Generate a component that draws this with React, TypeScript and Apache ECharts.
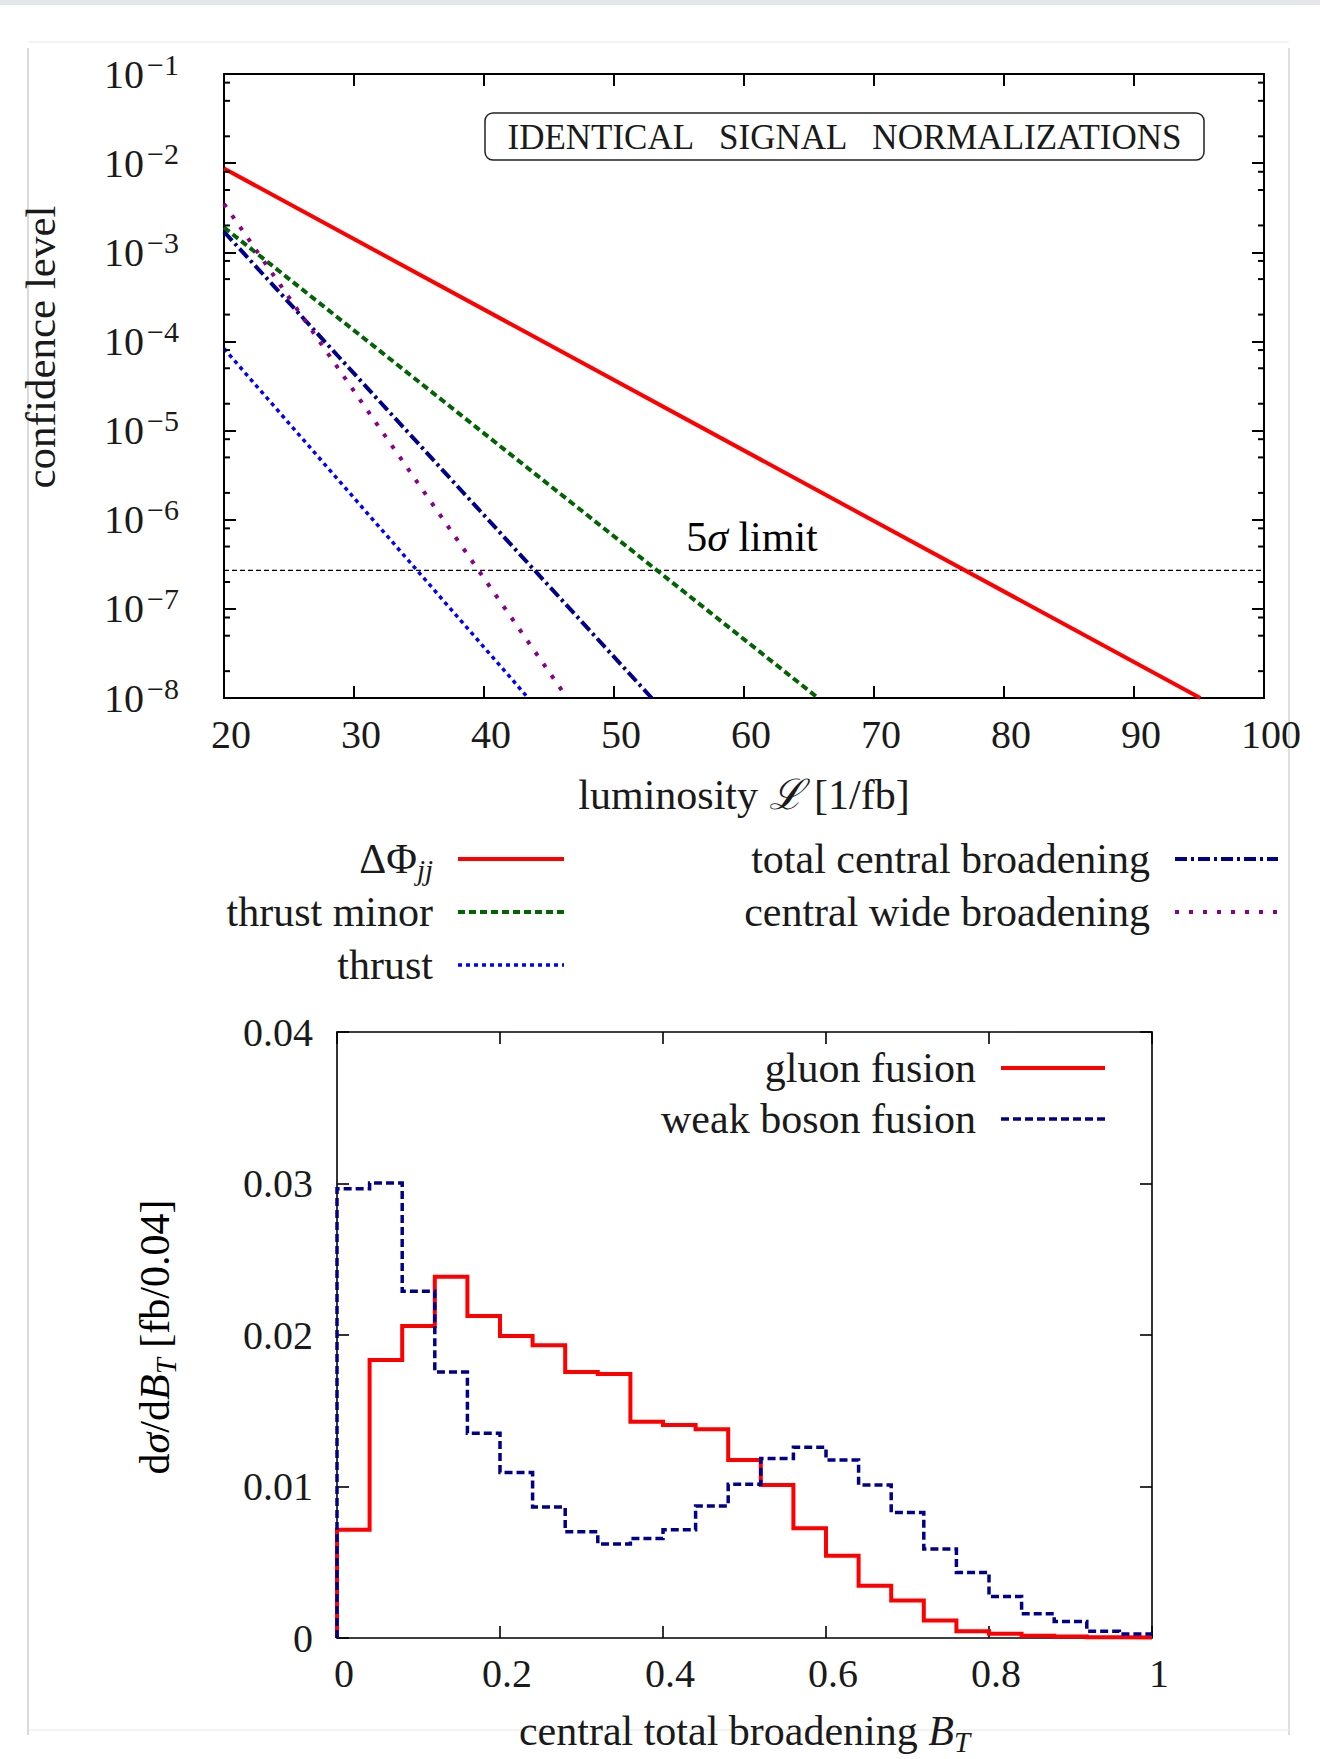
import React, { useEffect, useRef } from 'react';
import * as echarts from 'echarts';

const FONT = "'Liberation Serif', 'DejaVu Serif', serif";
const INK = '#1a1a1a';
const FS = 40; // digits
const FW = 42; // words

// ---------- Top panel: confidence level vs luminosity ----------
const lumiMin = 20;
const lumiMax = 100;
const clMin = 1e-8;
const clMax = 1e-1;
// straight lines on the log scale: [luminosity, confidence level]
const deltaPhiJJ = [[20, 8.7e-3], [95.1, 1e-8]];
const thrustMinor = [[20, 1.9e-3], [65.7, 1e-8]];
const totalCentralBroadening = [[20, 1.7e-3], [52.9, 1e-8]];
const centralWideBroadening = [[20, 3.5e-3], [46.4, 1e-8]];
const thrust = [[20, 8.3e-5], [43.4, 1e-8]];
const fiveSigmaLevel = 2.7e-7;
const minorMantissas = [2, 5, 8];
const minorDecades = [-8, -7, -6, -5, -4, -3, -2];

// ---------- Bottom panel: histogram of B_T ----------
const binWidth = 0.04;
const gluonFusion = [
  0.00714, 0.01835, 0.02059, 0.02384, 0.02125, 0.01993, 0.01933, 0.01755, 0.01742,
  0.01428, 0.01406, 0.01378, 0.01175, 0.0101, 0.00725, 0.00543, 0.00345, 0.00248,
  0.00116, 0.00044, 0.00028, 0.00015, 0.0001, 0.00005, 0.00003,
];
const weakBosonFusion = [
  0.02966, 0.03003, 0.02289, 0.01755, 0.01351, 0.01092, 0.00864, 0.00701, 0.0062,
  0.00657, 0.00714, 0.00872, 0.01015, 0.01184, 0.01259, 0.01175, 0.0101, 0.00828,
  0.00587, 0.00433, 0.00274, 0.0016, 0.00109, 0.00044, 0.00026,
];

const stepData = (vals: number[]) => {
  const pts: number[][] = [[0, 0]];
  vals.forEach((v, i) => pts.push([i * binWidth, v]));
  pts.push([vals.length * binWidth, vals[vals.length - 1]]);
  return pts;
};

const minorTickValues: number[][] = [];
minorDecades.forEach((e) => minorMantissas.forEach((m) => minorTickValues.push([lumiMin, m * Math.pow(10, e)])));

const COL = {
  red: '#ff0000',
  green: '#006400',
  navy: '#00008b',
  purple: '#8b008b',
  blue: '#0000ff',
};

const DASH = {
  green: [7, 4],
  navy: [12, 4, 3, 4],
  purple: [4, 10],
  blue: [4, 4],
  wbf: [8, 4],
};

const G1 = { left: 224, top: 74, width: 1040, height: 624 };
const G2 = { left: 337, top: 1032, width: 815, height: 606 };

const supRich = {
  b: { fontFamily: FONT, fontSize: FS, color: INK, lineHeight: 50, verticalAlign: 'middle' },
  sup: { fontFamily: FONT, fontSize: 30, color: INK, lineHeight: 30, verticalAlign: 'top', padding: [0, 0, 0, 3] },
};

const mathRich = {
  i: { fontFamily: FONT, fontSize: FW, fontStyle: 'italic', color: INK, lineHeight: 50, verticalAlign: 'middle' },
  r: { fontFamily: FONT, fontSize: FW, color: INK, lineHeight: 50, verticalAlign: 'middle' },
  sub: { fontFamily: FONT, fontSize: 29, fontStyle: 'italic', color: INK, lineHeight: 29, verticalAlign: 'bottom' },
};

const legendItem = (text: string, tx: number, y: number, x1: number, x2: number, color: string, width: number, dash: any) => [
  {
    type: 'text',
    x: tx,
    y,
    style: { text, rich: mathRich, fontFamily: FONT, fontSize: FW, fill: INK, align: 'right', verticalAlign: 'middle' },
  },
  {
    type: 'line',
    shape: { x1, y1: y, x2, y2: y },
    style: { stroke: color, lineWidth: width, lineDash: dash },
  },
];

const axisCommon = (extra: any) => ({
  splitLine: { show: false },
  ...extra,
  axisLine: { show: true, onZero: false, lineStyle: { color: '#000', width: extra.lw } },
  axisTick: { inside: true, length: 12, lineStyle: { color: '#000', width: extra.lw } },
});

export default function App() {
  const ref = useRef<HTMLDivElement>(null);

  useEffect(() => {
    if (!ref.current) return;
    const chart = echarts.init(ref.current, undefined, { renderer: 'svg' });

    const lineSeries = (name: string, data: number[][], color: string, width: number, type: any) => ({
      type: 'line',
      name,
      data,
      xAxisIndex: 0,
      yAxisIndex: 0,
      symbol: 'none',
      showSymbol: false,
      clip: true,
      z: 3,
      lineStyle: { color, width, type, cap: 'butt' },
    });

    const option: any = {
      animation: false,
      backgroundColor: '#ffffff',
      textStyle: { fontFamily: FONT, color: INK },
      grid: [
        { ...G1, containLabel: false, outerBoundsMode: 'none' },
        { ...G2, containLabel: false, outerBoundsMode: 'none' },
      ],
      xAxis: [
        axisCommon({
          lw: 2, type: 'value', gridIndex: 0, position: 'bottom', min: lumiMin, max: lumiMax, interval: 10,
          axisLabel: { fontFamily: FONT, fontSize: FS, color: INK, margin: 16, padding: [0, 0, 0, 14] },
          name: 'luminosity {i|ℒ} [1/fb]', nameLocation: 'middle', nameGap: 72,
          nameTextStyle: { fontFamily: FONT, fontSize: FW, color: INK, rich: mathRich },
        }),
        axisCommon({
          lw: 2, type: 'value', gridIndex: 0, position: 'top', min: lumiMin, max: lumiMax, interval: 10,
          axisLabel: { show: false },
        }),
        axisCommon({
          lw: 1.6, type: 'value', gridIndex: 1, position: 'bottom', min: 0, max: 1, interval: 0.2,
          axisLabel: {
            fontFamily: FONT, fontSize: FS, color: INK, margin: 15, padding: [0, 0, 0, 14],
            formatter: (v: number) => (v === 0 || v === 1 ? String(v) : v.toFixed(1)),
          },
          name: 'central total broadening {i|B}{sub|T}', nameLocation: 'middle', nameGap: 68,
          nameTextStyle: { fontFamily: FONT, fontSize: FW, color: INK, rich: mathRich },
        }),
        axisCommon({
          lw: 1.6, type: 'value', gridIndex: 1, position: 'top', min: 0, max: 1, interval: 0.2,
          axisLabel: { show: false },
        }),
      ],
      yAxis: [
        axisCommon({
          lw: 2, type: 'log', logBase: 10, gridIndex: 0, position: 'left', min: clMin, max: clMax, splitNumber: 7,
          axisLabel: {
            margin: 45, rich: supRich,
            formatter: (v: number) => `{b|10}{sup|−${-Math.round(Math.log10(v))}}`,
          },
        }),
        axisCommon({
          lw: 2, type: 'log', logBase: 10, gridIndex: 0, position: 'right', min: clMin, max: clMax, splitNumber: 7,
          axisLabel: { show: false },
        }),
        axisCommon({
          lw: 1.6, type: 'value', gridIndex: 1, position: 'left', min: 0, max: 0.04, interval: 0.01,
          axisLabel: {
            fontFamily: FONT, fontSize: FS, color: INK, margin: 24,
            formatter: (v: number) => (v === 0 ? '0' : v.toFixed(2)),
          },
        }),
        axisCommon({
          lw: 1.6, type: 'value', gridIndex: 1, position: 'right', min: 0, max: 0.04, interval: 0.01,
          axisLabel: { show: false },
        }),
      ],
      series: [
        {
          type: 'custom',
          name: 'minor ticks',
          xAxisIndex: 0,
          yAxisIndex: 0,
          silent: true,
          clip: false,
          z: 5,
          data: minorTickValues,
          renderItem: (params: any, api: any) => {
            const y = api.coord([api.value(0), api.value(1)])[1];
            const cs = params.coordSys;
            return {
              type: 'group',
              children: [
                { type: 'line', shape: { x1: cs.x, y1: y, x2: cs.x + 6, y2: y }, style: { stroke: '#000', lineWidth: 2 } },
                { type: 'line', shape: { x1: cs.x + cs.width - 6, y1: y, x2: cs.x + cs.width, y2: y }, style: { stroke: '#000', lineWidth: 2 } },
              ],
            };
          },
        },
        {
          type: 'line',
          name: '5σ limit',
          xAxisIndex: 0,
          yAxisIndex: 0,
          symbol: 'none',
          data: [[lumiMin, fiveSigmaLevel], [lumiMax, fiveSigmaLevel]],
          lineStyle: { color: '#000', width: 1.2, type: [5, 3] },
          z: 2,
        },
        lineSeries('ΔΦjj', deltaPhiJJ, COL.red, 4, 'solid'),
        lineSeries('thrust minor', thrustMinor, COL.green, 4, DASH.green),
        lineSeries('total central broadening', totalCentralBroadening, COL.navy, 4, DASH.navy),
        lineSeries('central wide broadening', centralWideBroadening, COL.purple, 4, DASH.purple),
        lineSeries('thrust', thrust, COL.blue, 3.5, DASH.blue),
        {
          type: 'line',
          name: 'gluon fusion',
          xAxisIndex: 2,
          yAxisIndex: 2,
          step: 'end',
          symbol: 'none',
          data: stepData(gluonFusion),
          lineStyle: { color: COL.red, width: 4, cap: 'butt', join: 'miter' },
          z: 3,
        },
        {
          type: 'line',
          name: 'weak boson fusion',
          xAxisIndex: 2,
          yAxisIndex: 2,
          step: 'end',
          symbol: 'none',
          data: stepData(weakBosonFusion),
          lineStyle: { color: COL.navy, width: 3.5, type: DASH.wbf, cap: 'butt', join: 'miter' },
          z: 4,
        },
      ],
      graphic: [
        // page frame
        { type: 'rect', z: -10, shape: { x: 0, y: 0, width: 1320, height: 5 }, style: { fill: '#e4e6ea' } },
        { type: 'line', z: -10, shape: { x1: 29, y1: 42, x2: 1289, y2: 42 }, style: { stroke: '#efefef', lineWidth: 1.5 } },
        { type: 'line', z: -10, shape: { x1: 28, y1: 48, x2: 28, y2: 1735 }, style: { stroke: '#cfcfcf', lineWidth: 1.5 } },
        { type: 'line', z: -10, shape: { x1: 1289, y1: 48, x2: 1289, y2: 1735 }, style: { stroke: '#d4d4d4', lineWidth: 1.5 } },
        { type: 'line', z: -10, shape: { x1: 29, y1: 1730, x2: 1289, y2: 1730 }, style: { stroke: '#efefef', lineWidth: 1.5 } },
        // annotation box
        {
          type: 'rect', z: 10,
          shape: { x: 485, y: 113, width: 719, height: 47, r: 8 },
          style: { fill: '#ffffff', stroke: '#222', lineWidth: 1.5 },
        },
        {
          type: 'text', z: 11, x: 844.5, y: 137,
          style: {
            text: 'IDENTICAL   SIGNAL   NORMALIZATIONS', fontFamily: FONT, fontSize: 35, fill: INK,
            align: 'center', verticalAlign: 'middle',
          },
        },
        {
          type: 'text', z: 11, x: 752, y: 537,
          style: { text: '{r|5}{i|σ}{r| limit}', rich: mathRich, align: 'center', verticalAlign: 'middle' },
        },
        // y-axis titles
        {
          type: 'text', x: 40, y: 347, rotation: Math.PI / 2,
          style: { text: 'confidence level', fontFamily: FONT, fontSize: 43, fill: INK, align: 'center', verticalAlign: 'middle' },
        },
        {
          type: 'text', x: 155, y: 1337, rotation: Math.PI / 2,
          style: {
            text: '{r|d}{i|σ}{r|/d}{i|B}{sub|T}{r| [fb/0.04]}', rich: mathRich,
            align: 'center', verticalAlign: 'middle',
          },
        },
        // legend, top panel
        ...legendItem('{r|ΔΦ}{sub|jj}', 433, 859, 458, 564, COL.red, 4, null),
        ...legendItem('thrust minor', 433, 912, 458, 564, COL.green, 4, DASH.green),
        ...legendItem('thrust', 433, 965, 458, 564, COL.blue, 3.5, DASH.blue),
        ...legendItem('total central broadening', 1150, 859, 1175, 1278, COL.navy, 4, DASH.navy),
        ...legendItem('central wide broadening', 1150, 912, 1175, 1278, COL.purple, 4, DASH.purple),
        // legend, bottom panel
        ...legendItem('gluon fusion', 976, 1068, 1001, 1105, COL.red, 4, null),
        ...legendItem('weak boson fusion', 976, 1119, 1001, 1105, COL.navy, 3.5, DASH.wbf),
      ],
    };

    chart.setOption(option);
    return () => chart.dispose();
  }, []);

  return (
    <div
      ref={ref}
      style={{ position: 'absolute', left: 0, top: 0, width: 1320, height: 1759, background: '#fff' }}
    />
  );
}
